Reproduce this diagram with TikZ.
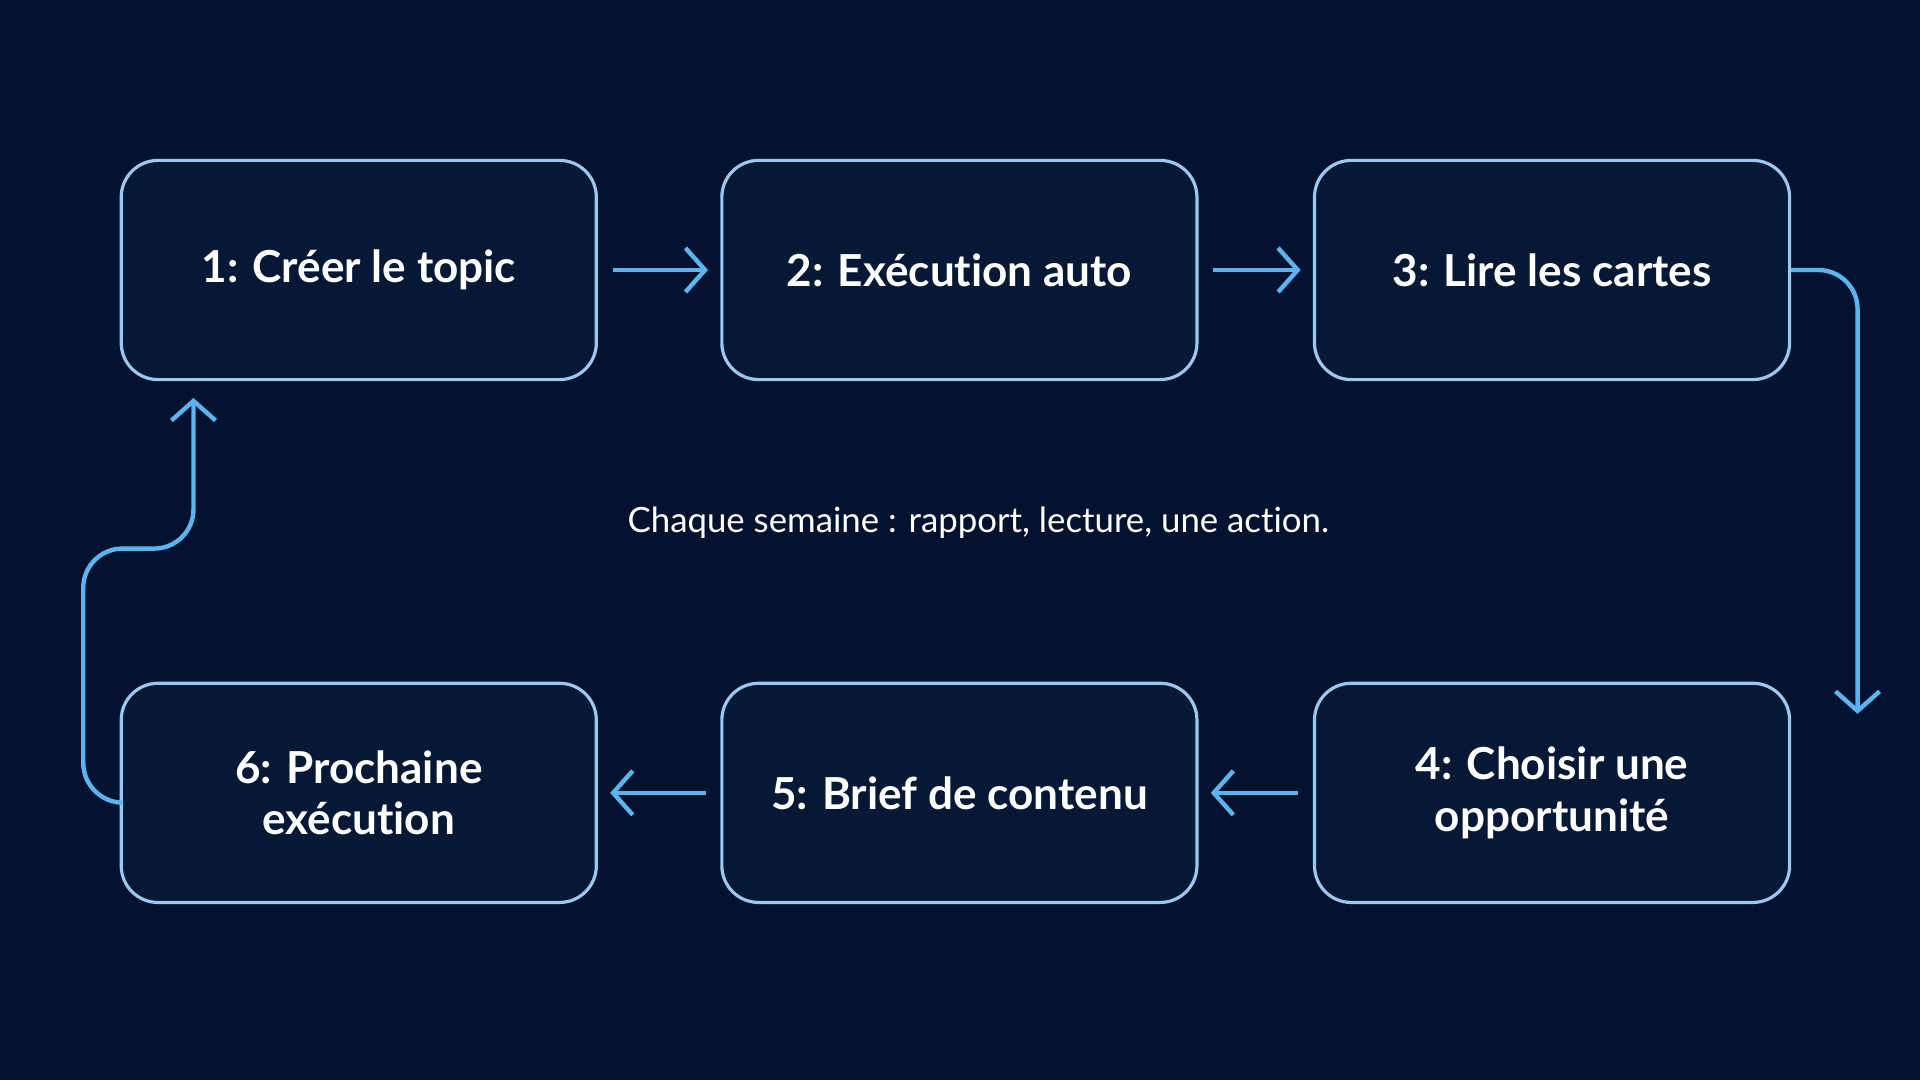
\documentclass[tikz,border=0pt]{standalone}
\usepackage{fontspec}
\setmainfont{Lato}[Ligatures={NoCommon,NoContextual,NoDiscretionary}]
\usetikzlibrary{arrows.meta}
\definecolor{bg}{HTML}{03132F}
\definecolor{boxfill}{HTML}{051836}
\definecolor{boxline}{HTML}{9CC8F0}
\definecolor{arr}{HTML}{5AB4F0}
\begin{document}
\begin{tikzpicture}[x=0.5pt,y=-0.5pt,
  box/.style={draw=boxline,line width=1.3pt,fill=boxfill,rounded corners=15pt,minimum width=194pt,minimum height=89.5pt,text=white,font=\fontsize{18}{21}\selectfont\bfseries,align=center,inner sep=0pt},
  conn/.style={draw=arr,line width=1.8pt,-{Straight Barb[length=8pt,width=18pt,line width=1.8pt]}}]
\fill[bg] (0,0) rectangle (1568,882);
\useasboundingbox (0,0) rectangle (1568,882);
\node[box] (b1) at (293,220.5) {1: Créer le topic};
\node[box] (b2) at (783.5,220.5) {2: Exécution auto};
\node[box] (b3) at (1267.5,220.5) {3: Lire les cartes};
\node[box] (b4) at (1267.5,647.5) {4: Choisir une\\opportunité};
\node[box] (b5) at (783.5,647.5) {5: Brief de contenu};
\node[box] (b6) at (293,647.5) {6: Prochaine\\exécution};
\node[text=white,font=\fontsize{14.2}{16}\selectfont] (lbl) at (799,427) {Chaque semaine : rapport, lecture, une action.};
\coordinate (e3) at (1517,583);
\coordinate (e1) at (158,325);
\draw[conn] ([xshift=6pt]b1.east) -- ([xshift=-5pt]b2.west);
\draw[conn] ([xshift=6pt]b2.east) -- ([xshift=-5pt]b3.west);
\draw[conn,rounded corners=16pt] (b3.east) -- (1517,220.5) -- (e3);
\draw[conn] ([xshift=-6pt]b4.west) -- ([xshift=5pt]b5.east);
\draw[conn] ([xshift=-6pt]b5.west) -- ([xshift=5pt]b6.east);
\draw[conn,rounded corners=16pt] ([yshift=-4pt]b6.west) -- (68,655) -- (68,448) -- (158,448) -- (e1);
\end{tikzpicture}
\end{document}
